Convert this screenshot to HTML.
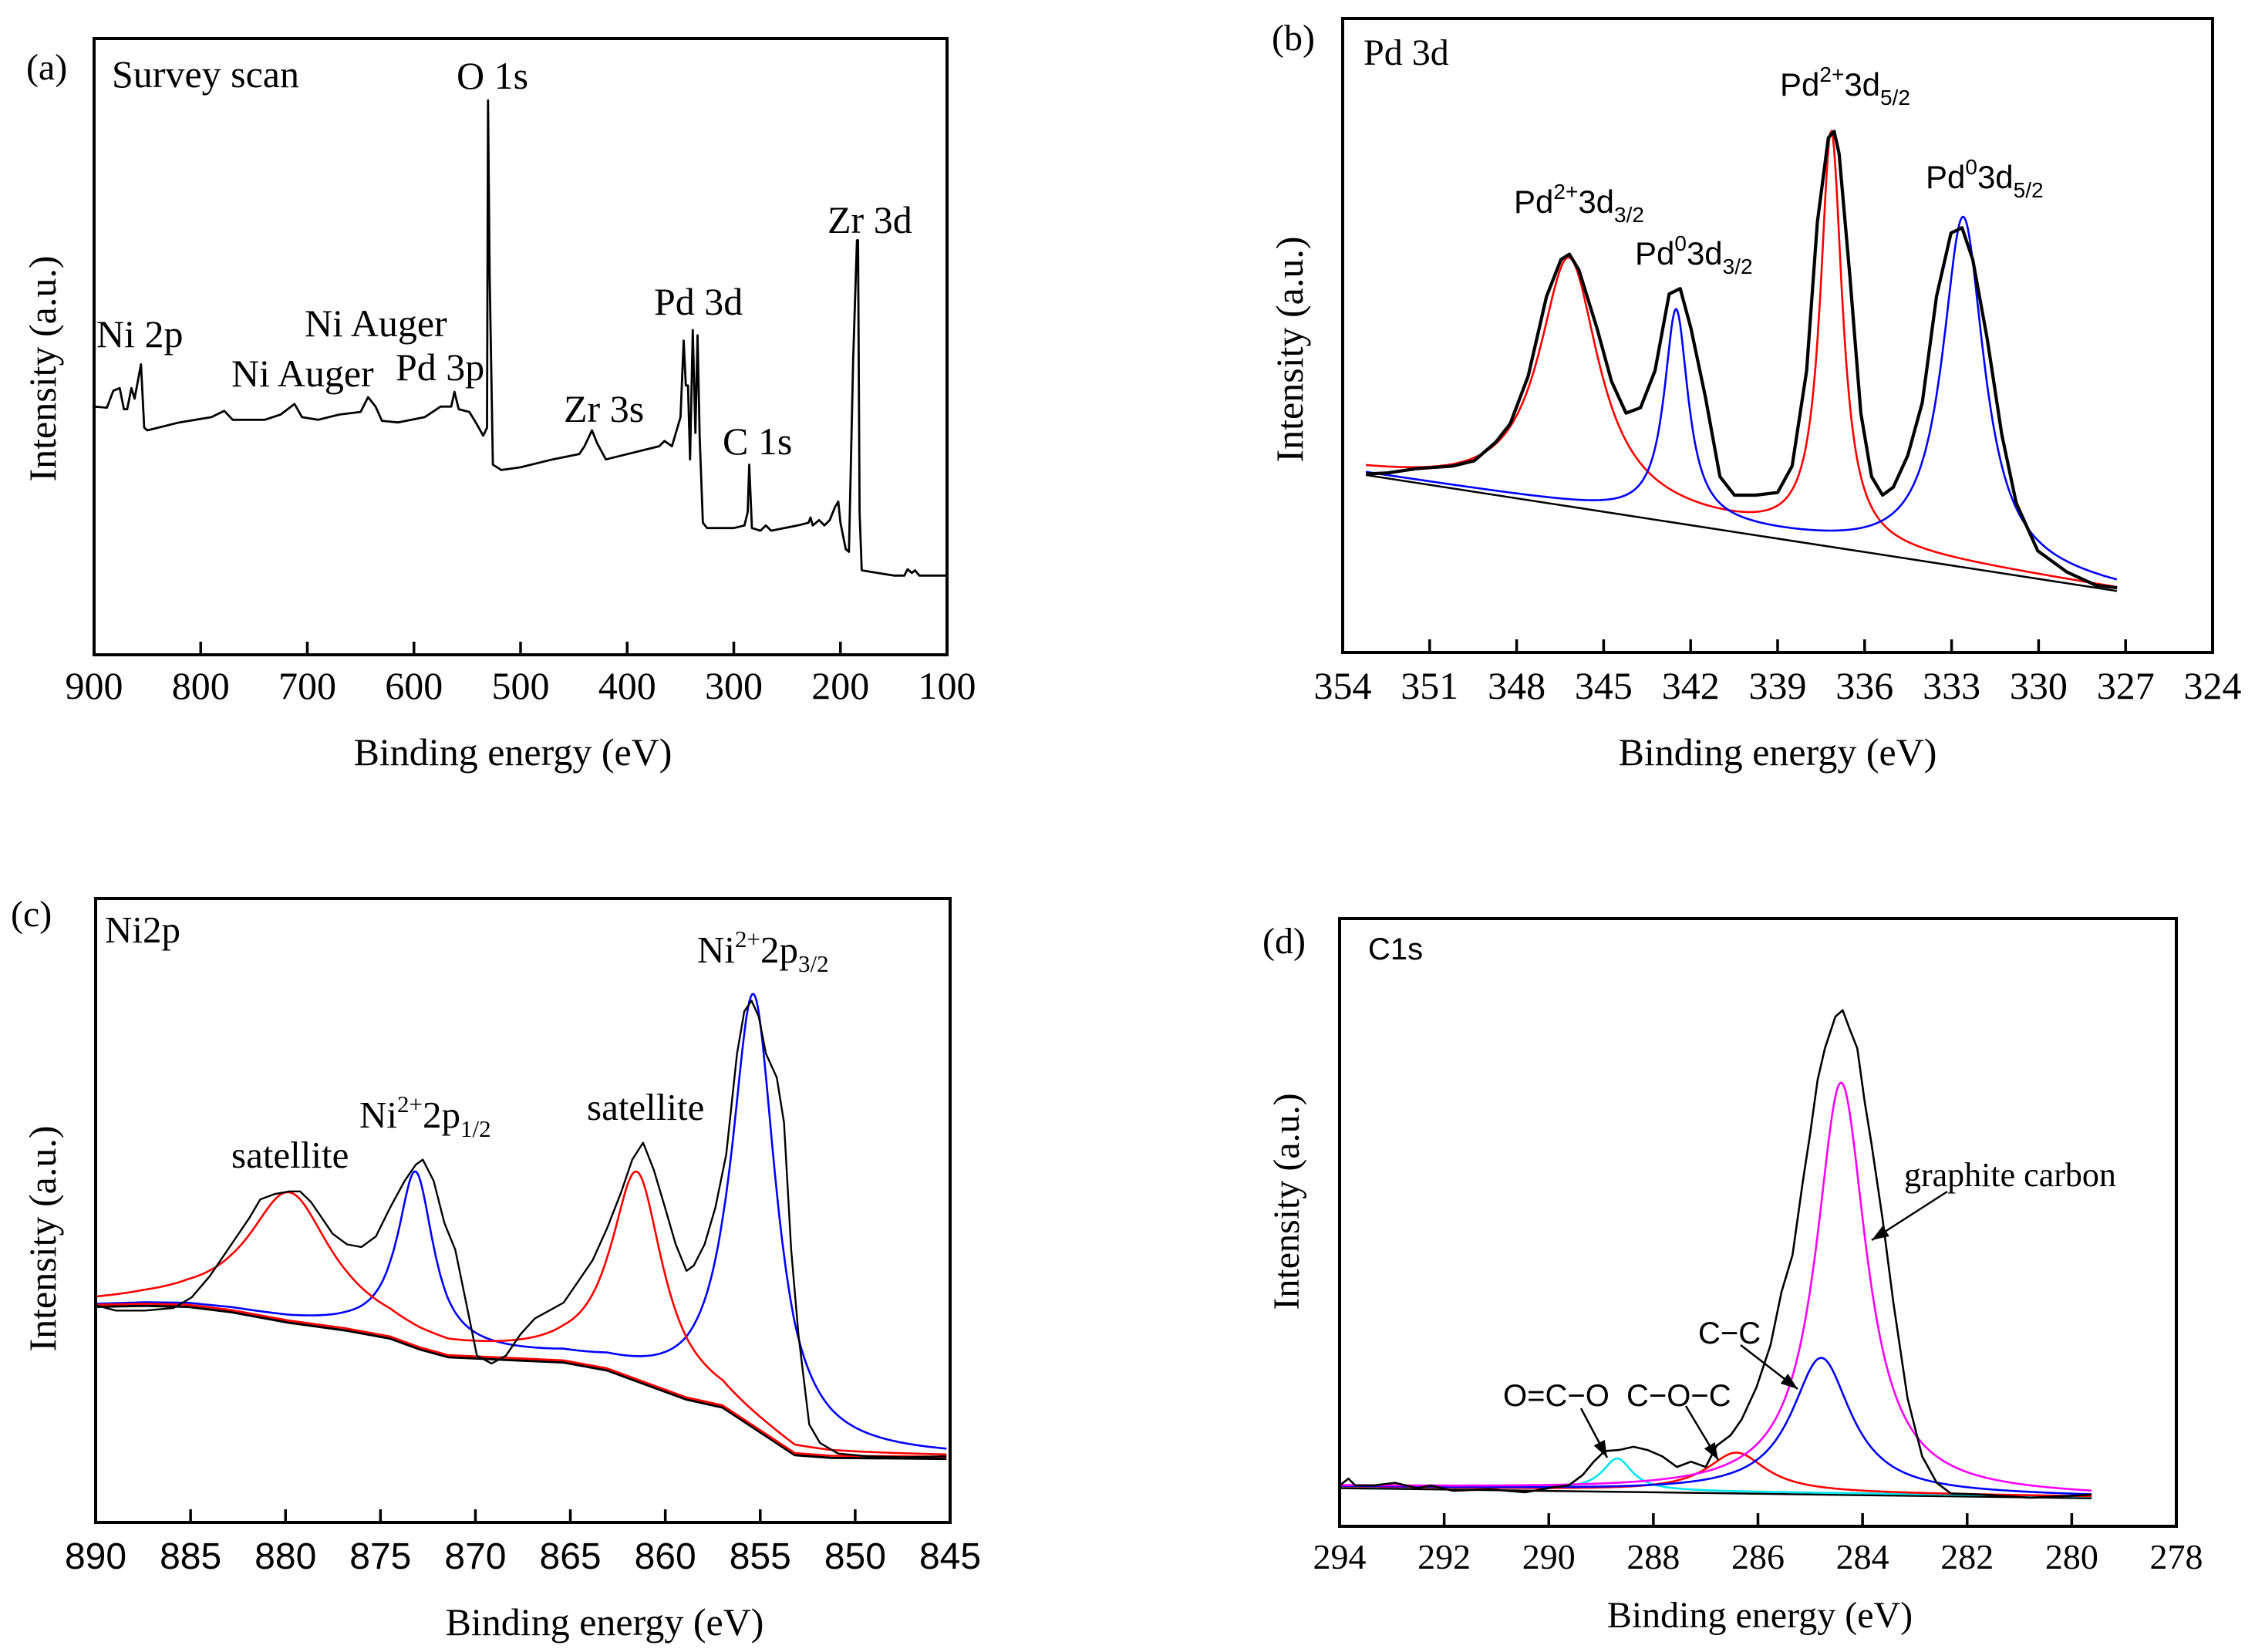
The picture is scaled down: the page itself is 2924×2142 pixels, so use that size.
<!DOCTYPE html>
<html><head><meta charset="utf-8"><style>
html,body{margin:0;padding:0;background:#fff}
svg{display:block}
.serif{font-family:"Liberation Serif",serif}
.sans{font-family:"Liberation Sans",sans-serif}
</style></head><body>
<svg id="fig" width="2924" height="2142" viewBox="0 0 2924 2142" xmlns="http://www.w3.org/2000/svg"></svg>
<script>
// ---------- Panel (a) survey data ----------
const surveyE=[900,888,882,876,872,869,865,862,856,853,850,820,790,778,770,740,725,712,705,690,670,650,643,636,630,615,590,575,565,562,558,548,542,535,531.5,530.5,529,526,518,500,470,445,440,433,428,420,400,380,370,365,358,350,347,345,343,341,338.5,336,334,332,329,325,300,290,287,285.5,283,275,270,265,240,230,228,226,220,215,210,205,202,200,195,192,188,184.5,183.5,182,180,150,140,137,133,130,126,100];
const surveyI=[470,468,500,505,465,465,505,485,550,430,425,440,450,462,445,445,455,475,450,445,455,460,488,470,443,440,450,470,470,498,465,460,440,415,430,1050,720,360,350,355,370,380,395,425,400,370,380,390,395,405,395,450,595,510,510,370,615,420,605,410,250,240,240,245,270,360,240,235,245,235,245,250,260,245,255,245,255,280,290,250,200,195,560,785,785,270,160,150,150,162,155,160,150,150];
const surveyTicks=[900,800,700,600,500,400,300,200,100];

// ---------- Panel (b) Pd 3d ----------
const pdE=[353.2,352.45,351.46,350.21,349.46,348.72,348.22,347.6,346.97,346.47,346.18,345.85,345.23,344.73,344.23,343.73,343.23,342.74,342.36,341.99,341.49,340.99,340.49,339.75,339.0,338.5,338.0,337.63,337.25,337.05,336.88,336.51,336.13,335.76,335.38,335.01,334.51,334.01,333.52,333.02,332.64,332.27,331.77,331.27,330.77,330.03,329.03,328.03,327.29];
const pdI=[337,339,347,352,362,397,432,522,672,742,752,722,612,512,452,462,532,677,687,612,482,332,297,297,302,352,532,812,972,984,942,712,452,332,297,312,372,472,672,792,802,742,592,412,282,192,152,127,122];
const pdBaseE=[353.2,327.3];
const pdBaseI=[339,120];
const pd2Center=[346.2,337.15], pd2Height=[464,773], pd2Fwhm=[2.5,0.92];
const pd0Center=[342.5,332.6], pd0Height=[395,657], pd0Fwhm=[1.0,1.75];
const pdTicks=[354,351,348,345,342,339,336,333,330,327,324];

// ---------- Panel (c) Ni 2p ----------
const niE=[890,888.93,887.41,885.89,884.94,883.99,882.85,881.9,881.33,880.57,879.8,879.23,878.66,878.09,877.52,876.76,876.0,875.24,874.48,873.72,873.15,872.77,872.2,871.63,871.06,870.49,869.92,869.15,868.39,867.63,866.87,866.11,865.35,864.59,863.83,863.07,862.31,861.74,861.17,860.6,860.02,859.45,858.88,858.5,857.93,857.36,856.79,856.22,855.84,855.46,855.08,854.7,854.13,853.75,853.37,852.99,852.42,851.85,850.9,849.37,847.47,845.19];
const niI=[410,400,400,405,425,465,525,575,610,620,625,625,605,575,545,525,520,540,595,645,675,685,645,565,515,415,315,300,315,355,385,400,415,455,495,555,625,685,717,665,595,525,475,485,525,595,695,885,965,985,955,885,840,755,515,355,185,150,130,125,123,125];
const niBaseE=[890,887.41,885.13,882.85,879.8,876.76,874.48,872.96,871.44,868.39,865.35,863.07,861.17,858.88,856.98,855.08,853.18,851.27,845.19];
const niBaseI=[410,412,410,400,380,365,350,330,315,310,305,290,265,235,220,175,130,125,123];
const niSatCenter=[879.8,861.5], niSatHeight=[240,388], niSatFwhm=[5.3,3.3];
const niMainCenter=[873.15,855.35], niMainHeight=[325,815], niMainFwhm=[2.3,2.85];
const niTicks=[890,885,880,875,870,865,860,855,850,845];

// ---------- Panel (d) C 1s ----------
const cE=[294,293.83,293.7,293.35,292.94,292.52,292.25,291.83,291.14,290.45,289.9,289.62,289.35,289.14,288.93,288.66,288.38,288.11,287.83,287.55,287.28,287.0,286.79,286.52,286.31,286.03,285.76,285.55,285.34,285.14,285.0,284.86,284.72,284.52,284.38,284.24,284.1,283.96,283.83,283.62,283.41,283.14,282.86,282.58,282.31,281.75,280.79,280.1,279.62];
const cI=[77,90,77,77,82,72,77,67,70,64,74,77,97,122,142,144,150,144,132,112,122,112,152,172,202,262,342,442,512,652,742,842,902,962,974,937,902,802,722,582,422,242,132,82,62,60,54,57,60];
const cBaseE=[294,279.62];
const cBaseI=[75,56];
const cCompNames=['o-c-o','c-o-c','c-c','graphite'];
const cCompCenter=[288.69,286.41,284.79,284.41];
const cCompHeight=[60,74,255,775];
const cCompFwhm=[0.69,1.38,1.38,1.17];
const cCompColor=['#00e5ee','#ff0000','#0000ff','#ff00ff'];
const cTicks=[294,292,290,288,286,284,282,280,278];

const NS='http://www.w3.org/2000/svg';
const svg=document.getElementById('fig');
function mk(tag,attrs,parent){const e=document.createElementNS(NS,tag);for(const k in attrs)e.setAttribute(k,attrs[k]);(parent||svg).appendChild(e);return e;}
function scale(d0,d1,r0,r1){return v=>r0+(v-d0)/(d1-d0)*(r1-r0);}
function interp(xs,ys,x){
  if(x>=xs[0])return ys[0]; for(let i=1;i<xs.length;i++){if(x>=xs[i]){const t=(xs[i-1]-x)/(xs[i-1]-xs[i]);return ys[i-1]+t*(ys[i]-ys[i-1]);}} return ys[ys.length-1];}
function lor(x,c,h,f){const g=f/2;return h/(1+((x-c)/g)*((x-c)/g));}
function pathFrom(xs,ys,sx,sy){let d='';for(let i=0;i<xs.length;i++)d+=(i?'L':'M')+sx(xs[i]).toFixed(1)+','+sy(ys[i]).toFixed(1);return d;}
function fitPath(bE,bI,cs,hs,fs,sx,sy,idx){
  const e0=bE[0],e1=bE[bE.length-1];let d='';const N=600;
  for(let k=0;k<=N;k++){const x=e0+(e1-e0)*k/N;let y=interp(bE,bI,x);for(const i of idx)y+=lor(x,cs[i],hs[i],fs[i]);d+=(k?'L':'M')+sx(x).toFixed(1)+','+sy(y).toFixed(1);}
  return d;}
function frame(g,x0,y0,x1,y1,ticks,sx,fontCls,fs,tickY){
  const f=mk('rect',{x:x0,y:y0,width:x1-x0,height:y1-y0,fill:'none',stroke:'#000','stroke-width':4},g);
  
  
  ticks.forEach(t=>{
    const X=sx(t);
    const tk=mk('line',{x1:X,x2:X,y1:y1,y2:y1-17,stroke:'#000','stroke-width':3.5},g);
    
    
    const tl=mk('text',{x:X,y:tickY,'text-anchor':'middle','font-size':fs,class:fontCls},g);
    
    
    tl.textContent=t;
  });
}
function txt(g,x,y,s,fs,cls,name,anchor){const t=mk('text',{x:x,y:y,'font-size':fs,class:cls,'text-anchor':anchor||'start'},g);t.innerHTML=s;return t;}
function ylab(g,x,y,fs,name){const t=mk('text',{x:0,y:0,'font-size':fs,class:'serif','text-anchor':'middle',transform:`translate(${x},${y}) rotate(-90)`},g);t.textContent='Intensity (a.u.)';}
function line(g,d,col,w,name){const p=mk('path',{d:d,fill:'none',stroke:col,'stroke-width':w,'stroke-linejoin':'round'},g);return p;}

// ===== Panel a =====
{
 const g=mk('g',{});
 const x0=122,x1=1228,y0=50,y1=849;
 const sx=scale(900,100,x0,x1), sy=scale(0,1167,y1,y0);
 line(g,pathFrom(surveyE,surveyI,sx,sy),'#000',2.8,'survey-spectrum');
 frame(g,x0,y0,x1,y1,surveyTicks,sx,'serif',50,906);
 txt(g,665,992,'Binding energy (eV)',50,'serif','x-axis-title','middle');
 ylab(g,72,478,50,'y-axis-title');
 txt(g,34,103,'(a)',48,'serif','panel-label-a');
 txt(g,145,113,'Survey scan',50,'serif','panel-title');
 txt(g,592,115,'O 1s',50,'serif','peak-label-o1s');
 txt(g,1073,302,'Zr 3d',50,'serif','peak-label-zr3d');
 txt(g,125,450,'Ni 2p',50,'serif','peak-label-ni2p');
 txt(g,395,436,'Ni Auger',50,'serif','peak-label-ni-auger-1');
 txt(g,300,501,'Ni Auger',50,'serif','peak-label-ni-auger-2');
 txt(g,513,493,'Pd 3p',50,'serif','peak-label-pd3p');
 txt(g,848,408,'Pd 3d',50,'serif','peak-label-pd3d');
 txt(g,731,547,'Zr 3s',50,'serif','peak-label-zr3s');
 txt(g,937,589,'C 1s',50,'serif','peak-label-c1s');
}
// ===== Panel b =====
{
 const g=mk('g',{});
 const x0=1741,x1=2869,y0=24,y1=846;
 const sx=scale(354,324,x0,x1), sy=scale(0,1197,y1,y0);
 line(g,pathFrom(pdBaseE,pdBaseI.map(v=>v-4),sx,sy),'#000',2.5,'background-line');
 line(g,fitPath(pdBaseE,pdBaseI,pd2Center,pd2Height,pd2Fwhm,sx,sy,[0,1]),'#ff0000',2.6,'fit-pd2plus');
 line(g,fitPath(pdBaseE,pdBaseI,pd0Center,pd0Height,pd0Fwhm,sx,sy,[0,1]),'#0000ff',2.6,'fit-pd0');
 line(g,pathFrom(pdE,pdI,sx,sy),'#000',4.2,'pd3d-spectrum');
 frame(g,x0,y0,x1,y1,pdTicks,sx,'serif',50,906);
 txt(g,2305,992,'Binding energy (eV)',50,'serif','x-axis-title','middle');
 ylab(g,1689,453,50,'y-axis-title');
 txt(g,1649,65,'(b)',48,'serif','panel-label-b');
 txt(g,1768,84,'Pd 3d',48,'serif','panel-title');
 txt(g,2308,124,'Pd<tspan font-size="28" dy="-18">2+</tspan><tspan dy="18">3d</tspan><tspan font-size="28" dy="12">5/2</tspan>',42,'sans','peak-label-pd2-5-2');
 txt(g,1963,276,'Pd<tspan font-size="28" dy="-18">2+</tspan><tspan dy="18">3d</tspan><tspan font-size="28" dy="12">3/2</tspan>',42,'sans','peak-label-pd2-3-2');
 txt(g,2120,343,'Pd<tspan font-size="28" dy="-18">0</tspan><tspan dy="18">3d</tspan><tspan font-size="28" dy="12">3/2</tspan>',42,'sans','peak-label-pd0-3-2');
 txt(g,2497,244,'Pd<tspan font-size="28" dy="-18">0</tspan><tspan dy="18">3d</tspan><tspan font-size="28" dy="12">5/2</tspan>',42,'sans','peak-label-pd0-5-2');
}
// ===== Panel c =====
{
 const g=mk('g',{});
 const x0=124,x1=1232,y0=1165,y1=1974;
 const sx=scale(890,845,x0,x1), sy=scale(0,1178,y1,y0);
 line(g,pathFrom(niBaseE,niBaseI.map(v=>v-3),sx,sy),'#000',3,'background-line');
 line(g,fitPath(niBaseE,niBaseI,niMainCenter,niMainHeight,niMainFwhm,sx,sy,[0,1]),'#0000ff',2.6,'fit-ni2plus');
 line(g,fitPath(niBaseE,niBaseI,niSatCenter,niSatHeight,niSatFwhm,sx,sy,[0,1]),'#ff0000',2.6,'fit-satellite');
 line(g,pathFrom(niBaseE,niBaseI.map(v=>v+1),sx,sy),'#ff0000',2.6,'background-red');
 line(g,pathFrom(niE,niI,sx,sy),'#000',2.4,'ni2p-spectrum');
 frame(g,x0,y0,x1,y1,niTicks,sx,'sans',48,2034);
 txt(g,784,2120,'Binding energy (eV)',50,'serif','x-axis-title','middle');
 ylab(g,72,1606,50,'y-axis-title');
 txt(g,14,1201,'(c)',48,'serif','panel-label-c');
 txt(g,136,1222,'Ni2p',49,'serif','panel-title');
 txt(g,904,1248,'Ni<tspan font-size="31" dy="-20">2+</tspan><tspan dy="20">2p</tspan><tspan font-size="31" dy="12">3/2</tspan>',49,'serif','peak-label-ni-3-2');
 txt(g,466,1462,'Ni<tspan font-size="31" dy="-20">2+</tspan><tspan dy="20">2p</tspan><tspan font-size="31" dy="12">1/2</tspan>',49,'serif','peak-label-ni-1-2');
 txt(g,761,1452,'satellite',49,'serif','peak-label-satellite-2');
 txt(g,300,1514,'satellite',49,'serif','peak-label-satellite-1');
}
// ===== Panel d =====
{
 const g=mk('g',{});
 const x0=1737,x1=2822,y0=1191,y1=1979;
 const sx=scale(294,278,x0,x1), sy=scale(0,1147,y1,y0);
 line(g,pathFrom(cBaseE,cBaseI.map(v=>v-3),sx,sy),'#000',2.5,'background-line');
 for(let i=0;i<cCompCenter.length;i++){
   line(g,fitPath(cBaseE,cBaseI,cCompCenter,cCompHeight,cCompFwhm,sx,sy,[i]),cCompColor[i],2.6,'fit-'+cCompNames[i]);
 }
 line(g,pathFrom(cE,cI,sx,sy),'#000',2.6,'c1s-spectrum');
 frame(g,x0,y0,x1,y1,cTicks,sx,'serif',46,2034);
 txt(g,2282,2110,'Binding energy (eV)',48,'serif','x-axis-title','middle');
 ylab(g,1684,1558,48,'y-axis-title');
 txt(g,1637,1236,'(d)',48,'serif','panel-label-d');
 txt(g,1774,1244,'C1s',40,'sans','panel-title');
 txt(g,2469,1538,'graphite carbon',44,'serif','label-graphite-carbon');
 txt(g,2202,1742,'C−C',40,'sans','label-c-c');
 txt(g,1949,1823,'O=C−O',40,'sans','label-o-c-o');
 txt(g,2109,1823,'C−O−C',40,'sans','label-c-o-c');
 const arrows=[[2525,1545,2427,1608,'arrow-graphite'],[2257,1744,2331,1801,'arrow-c-c'],[2050,1826,2084,1890,'arrow-o-c-o'],[2186,1823,2228,1893,'arrow-c-o-c']];
 arrows.forEach(a=>{
   const [ax,ay,bx,by,n]=a;
   const l=mk('line',{x1:ax,y1:ay,x2:bx,y2:by,stroke:'#000','stroke-width':2.5},g);
   
   
   const ang=Math.atan2(by-ay,bx-ax),L=22,W=8;
   const px=bx-L*Math.cos(ang),py=by-L*Math.sin(ang);
   const pts=`${bx},${by} ${px+W*Math.sin(ang)},${py-W*Math.cos(ang)} ${px-W*Math.sin(ang)},${py+W*Math.cos(ang)}`;
   const h=mk('polygon',{points:pts,fill:'#000'},g);
   
   
 });
}
</script>
</body></html>
